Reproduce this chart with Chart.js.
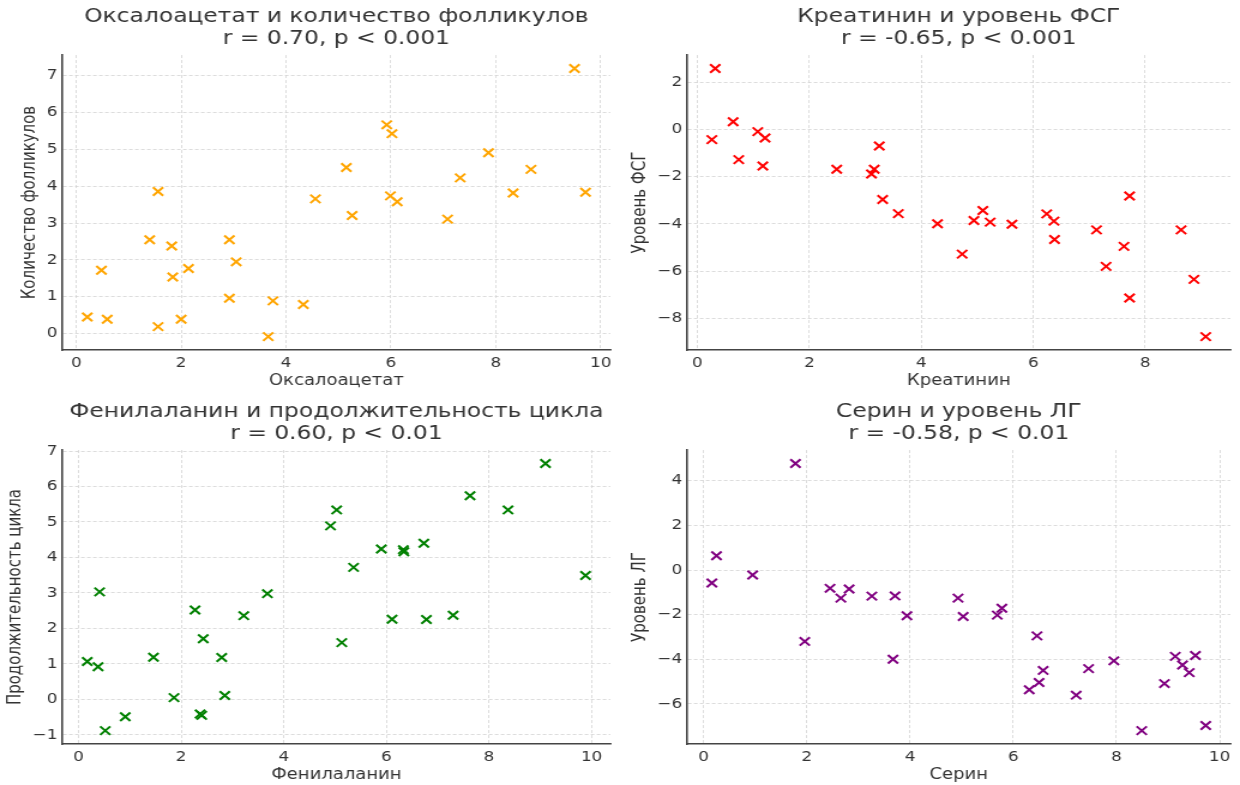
<!DOCTYPE html>
<html><head><meta charset="utf-8">
<script src="https://cdn.jsdelivr.net/npm/chart.js@4.4.1/dist/chart.umd.min.js"></script>
<style>
html,body{margin:0;padding:0;background:#fff;}
body{width:1240px;height:785px;overflow:hidden;position:relative;}
.w{position:absolute;transform-origin:0 0;}
canvas{display:block;}
</style></head><body>
<div class="w" id="w1"><canvas id="c1"></canvas></div>
<div class="w" id="w2"><canvas id="c2"></canvas></div>
<div class="w" id="w3"><canvas id="c3"></canvas></div>
<div class="w" id="w4"><canvas id="c4"></canvas></div>
<script>
// ---- data ----
const oxaloacetate = [0.21,0.48,0.59,1.40,1.56,1.56,1.82,1.84,2.00,2.14,2.92,2.92,3.05,3.66,3.75,4.33,4.56,5.15,5.26,5.92,6.02,5.99,6.12,7.08,7.32,7.86,8.33,8.67,9.50,9.71];
const follicles    = [0.45,1.72,0.39,2.55,3.86,0.19,2.38,1.54,0.39,1.77,2.55,0.96,1.95,-0.08,0.89,0.79,3.66,4.51,3.21,5.67,5.43,3.74,3.58,3.11,4.23,4.91,3.82,4.46,7.20,3.84];

const creatinine = [0.26,0.32,0.64,0.74,1.08,1.21,1.17,2.49,3.11,3.16,3.25,3.31,3.59,4.29,4.73,4.94,5.10,5.23,5.62,6.24,6.37,6.38,7.13,7.30,7.62,7.72,7.72,8.64,8.87,9.08];
const fsh        = [-0.42,2.60,0.34,-1.27,-0.08,-0.35,-1.54,-1.68,-1.88,-1.68,-0.69,-2.96,-3.56,-3.99,-5.28,-3.85,-3.43,-3.92,-4.01,-3.57,-3.88,-4.66,-4.25,-5.80,-4.95,-2.81,-7.14,-4.25,-6.35,-8.78];

const phenylalanine = [0.17,0.38,0.41,0.52,0.91,1.46,1.86,2.27,2.37,2.40,2.43,2.79,2.85,3.22,3.68,4.91,5.03,5.13,5.36,5.90,6.11,6.33,6.34,6.73,6.78,7.30,7.63,8.37,9.10,9.88];
const cycleLength   = [1.07,0.92,3.03,-0.88,-0.49,1.19,0.05,2.52,-0.41,-0.45,1.71,1.18,0.11,2.36,2.98,4.89,5.34,1.60,3.72,4.24,2.26,4.22,4.16,4.40,2.25,2.37,5.74,5.34,6.65,3.49];

const serine = [0.16,0.25,0.95,1.78,1.96,2.45,2.66,2.82,3.26,3.67,3.71,3.94,4.93,5.03,5.69,5.78,6.31,6.46,6.50,6.58,7.22,7.46,7.95,8.49,8.93,9.14,9.28,9.41,9.53,9.73];
const lh     = [-0.58,0.64,-0.22,4.78,-3.20,-0.82,-1.26,-0.85,-1.17,-4.00,-1.16,-2.05,-1.26,-2.08,-2.02,-1.71,-5.37,-2.95,-5.04,-4.50,-5.61,-4.42,-4.07,-7.20,-5.09,-3.87,-4.26,-4.60,-3.83,-6.97];

// tick labels
const xTicks1 = [0,2,4,6,8,10];
const yTicks1 = [0,1,2,3,4,5,6,7];
const xTicks2 = [0,2,4,6,8];
const yTicks2 = [-8,-6,-4,-2,0,2];
const xTicks3 = [0,2,4,6,8,10];
const yTicks3 = [-1,0,1,2,3,4,5,6,7];
const xTicks4 = [0,2,4,6,8,10];
const yTicks4 = [-6,-4,-2,0,2,4];

// titles
const titles1 = ['Оксалоацетат и количество фолликулов', 'r = 0.70, p < 0.001'];
const titles2 = ['Креатинин и уровень ФСГ', 'r = -0.65, p < 0.001'];
const titles3 = ['Фенилаланин и продолжительность цикла', 'r = 0.60, p < 0.01'];
const titles4 = ['Серин и уровень ЛГ', 'r = -0.58, p < 0.01'];

// ---- rendering ----
const SX = 620/517;
const FONT = "'DejaVu Sans', sans-serif";
const TXT = '#333333';

function lims(a){const mn=Math.min(...a),mx=Math.max(...a),m=(mx-mn)*0.05;return [mn-m,mx+m];}
function fmt(v){return v<0?'\u2212'+Math.abs(v):String(v);}

function make(n, xs, ys, color, title, xLabel, yLabel, xt, yt, g){
  const wrap=document.getElementById('w'+n);
  wrap.style.left=g.left+'px'; wrap.style.top=g.top+'px';
  wrap.style.transform='scaleX('+SX+')';
  const cv=document.getElementById('c'+n);
  cv.width=517; cv.height=g.h;
  const [x0,x1]=lims(xs), [y0,y1]=lims(ys);
  const gridCol='#d3d3d3';
  new Chart(cv,{
    type:'scatter',
    data:{datasets:[{data:xs.map((x,i)=>({x:x,y:ys[i]})),pointStyle:'crossRot',pointRadius:6,pointHoverRadius:6,
      pointBorderWidth:2,borderColor:color,backgroundColor:color}]},
    options:{
      responsive:false,animation:false,devicePixelRatio:1,
      layout:{padding:{left:0,right:g.padR,top:0,bottom:0}},
      plugins:{legend:{display:false},tooltip:{enabled:false},
        title:{display:true,text:title,fullSize:false,color:TXT,
          font:{family:FONT,size:19.5,weight:'normal',lineHeight:1.13},
          padding:{top:g.tpt,bottom:g.tpb}}},
      scales:{
        x:{type:'linear',position:'bottom',min:x0,max:x1,
          afterBuildTicks:s=>{s.ticks=xt.map(v=>({value:v}));},
          afterFit:s=>{s.height=g.xh;},
          ticks:{callback:fmt,color:TXT,font:{family:FONT,size:14},padding:5,maxRotation:0,autoSkip:false},
          grid:{color:gridCol,lineWidth:0.8,drawTicks:false},
          border:{display:true,color:'#444',width:1.6,dash:[3,2]},
          title:{display:true,text:xLabel,color:TXT,font:{family:FONT,size:15},padding:{top:0,bottom:g.xpb}}},
        y:{type:'linear',min:y0,max:y1,
          afterBuildTicks:s=>{s.ticks=yt.map(v=>({value:v}));},
          afterFit:s=>{s.width=g.yw;},
          ticks:{callback:fmt,color:TXT,font:{family:FONT,size:14},padding:4,autoSkip:false},
          grid:{color:gridCol,lineWidth:0.8,drawTicks:false},
          border:{display:true,color:'#444',width:1.6,dash:[3,2]},
          title:{display:true,text:yLabel,color:TXT,font:{family:FONT,size:15},padding:{top:g.ypt,bottom:0}}}
      }
    }
  });
}

make(1, oxaloacetate, follicles, '#ffa500', titles1, 'Оксалоацетат', 'Количество фолликулов', xTicks1, yTicks1,
  {left:0,top:0,h:392,padR:6,yw:52,xh:42,xpb:2,ypt:16,tpt:6,tpb:5});
make(2, creatinine, fsh, '#ff0000', titles2, 'Креатинин', 'Уровень ФСГ', xTicks2, yTicks2,
  {left:620,top:0,h:392,padR:4,yw:56,xh:42,xpb:2,ypt:8,tpt:6,tpb:5});
make(3, phenylalanine, cycleLength, '#008000', titles3, 'Фенилаланин', 'Продолжительность цикла', xTicks3, yTicks3,
  {left:0,top:394,h:391,padR:6,yw:52,xh:41,xpb:1,ypt:4,tpt:7,tpb:5});
make(4, serine, lh, '#800080', titles4, 'Серин', 'Уровень ЛГ', xTicks4, yTicks4,
  {left:620,top:394,h:391,padR:4,yw:56,xh:41,xpb:1,ypt:8,tpt:7,tpb:5});
</script>
</body></html>
